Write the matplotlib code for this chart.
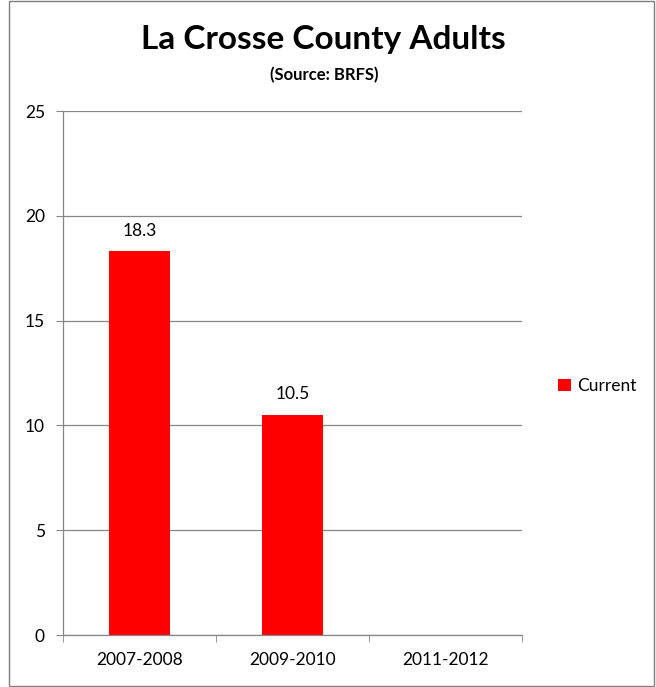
import matplotlib
matplotlib.use("Agg")
import matplotlib.pyplot as plt
from matplotlib.patches import Rectangle

categories = ["2007-2008", "2009-2010", "2011-2012"]
values = [18.3, 10.5, None]
series_name = "Current"
yticks = [0, 5, 10, 15, 20, 25]

plt.rcParams['font.family'] = ['Lato', 'DejaVu Sans']

W, H = 656, 687
fig = plt.figure(figsize=(W/100, H/100), dpi=100)

# outer border
fig.patches.append(Rectangle((9/W, 1/H), (654-9)/W, (686-1)/H, transform=fig.transFigure,
                             fill=False, edgecolor='#7f7f7f', linewidth=1.0))

ax = fig.add_axes([63/W, 1-635/H, (522-63)/W, (635-111)/H])
x = list(range(len(categories)))
grid_c = '#868686'
for yt in yticks:
    ax.axhline(yt, color=grid_c, linewidth=0.9, zorder=0)

bx = [i for i, v in enumerate(values) if v is not None]
bv = [v for v in values if v is not None]
bars = ax.bar(bx, bv, width=0.405, color='#ff0000', zorder=2, label=series_name)
for xi, v in zip(bx, bv):
    ax.text(xi, v + 0.6, f"{v}", ha='center', va='bottom', fontsize=12.5, color='black')

ax.set_xlim(-0.5, 2.5)
ax.set_ylim(0, 25)
ax.set_yticks(yticks)
ax.set_yticklabels([str(t) for t in yticks], fontsize=12.5)
ax.set_xticks(x)
ax.set_xticklabels(categories, fontsize=12.5)
ax.set_xticks([-0.5, 0.5, 1.5, 2.5], minor=True)
ax.tick_params(axis='x', which='major', length=0, pad=12)
ax.tick_params(axis='x', which='minor', length=5, color=grid_c, direction='out')
ax.tick_params(axis='y', length=5, color=grid_c, direction='out', pad=8)
for s in ['top', 'right']:
    ax.spines[s].set_visible(False)
for s in ['left', 'bottom']:
    ax.spines[s].set_color(grid_c)
    ax.spines[s].set_linewidth(0.9)

fig.text(323/W, 1-40/H, "La Crosse County Adults", ha='center', va='center',
         fontsize=24, fontweight='bold')
fig.text(324/W, 1-75/H, "(Source: BRFS)", ha='center', va='center',
         fontsize=12, fontweight='bold')

fig.legend(handles=[bars], labels=[series_name], loc='center left',
           bbox_to_anchor=(542/W, 1-386/H), frameon=False, fontsize=12.5,
           handlelength=0.75, handleheight=0.75, handletextpad=0.35)

fig.savefig("out.png", dpi=100)
